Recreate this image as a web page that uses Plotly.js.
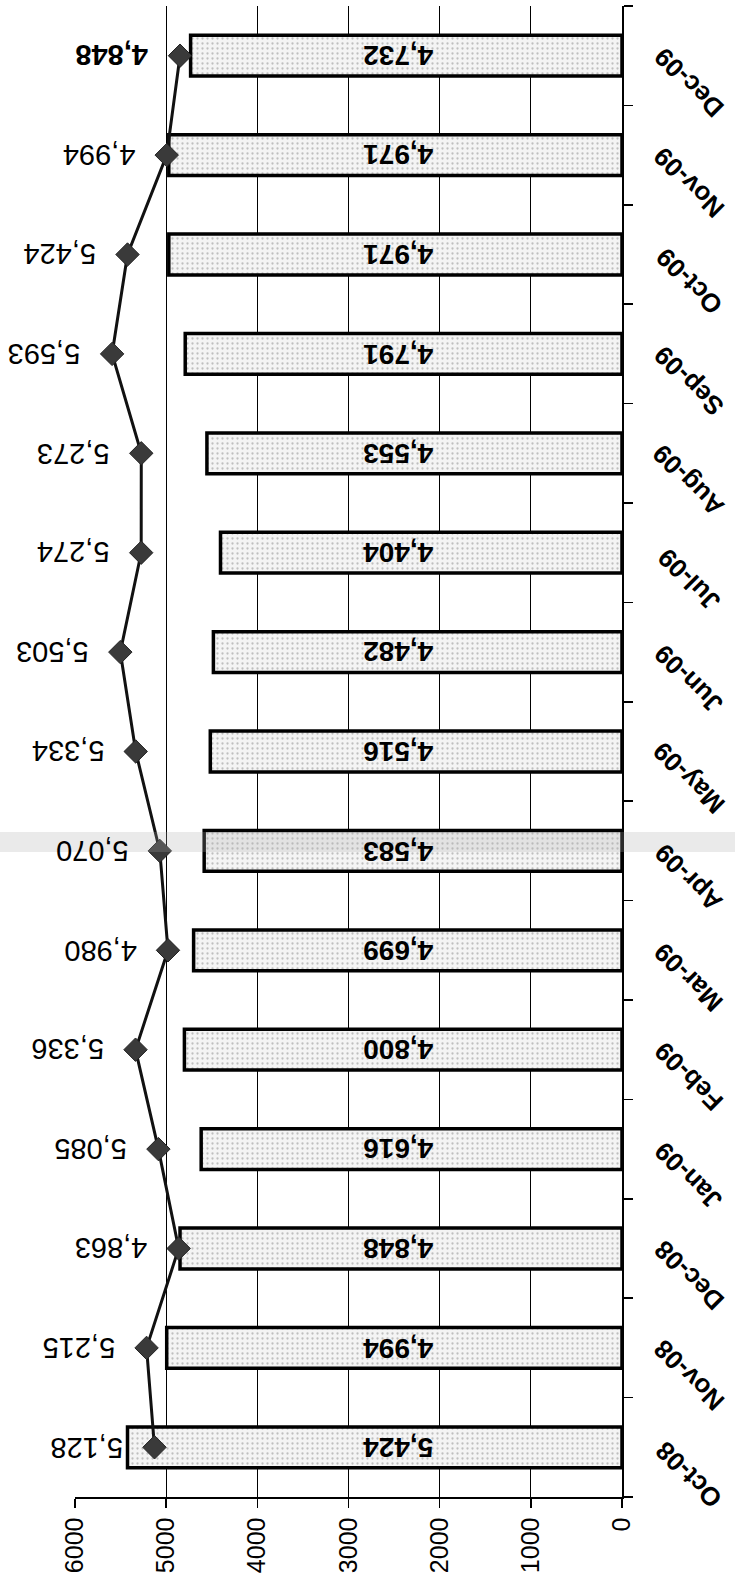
<!DOCTYPE html>
<html>
<head>
<meta charset="utf-8">
<script src="https://cdn.plot.ly/plotly-3.0.1.min.js"></script>
<style>html,body{margin:0;padding:0;background:#fff;}#chart{width:735px;height:1590px;}</style>
</head>
<body>
<div id="chart"></div>
<script>
var months = ["Oct-08","Nov-08","Dec-08","Jan-09","Feb-09","Mar-09","Apr-09","May-09","Jun-09","Jul-09","Aug-09","Sep-09","Oct-09","Nov-09","Dec-09"];
var barValues = [5424,4994,4848,4616,4800,4699,4583,4516,4482,4404,4553,4791,4971,4971,4732];
var lineValues = [5128,5215,4863,5085,5336,4980,5070,5334,5503,5274,5273,5593,5424,4994,4848];
var valueTicks = [0,1000,2000,3000,4000,5000,6000];

var FONT = "Liberation Sans, Arial, sans-serif";

var bars = {
  type: "bar",
  orientation: "h",
  y: months,
  x: barValues,
  width: 0.41,
  marker: {
    color: "#f4f4f4",
    line: {color: "#000", width: 3.5},
    pattern: {shape: ".", fgcolor: "#8a8a8a", size: 5, solidity: 0.16, fillmode: "overlay"}
  },
  hoverinfo: "skip",
  showlegend: false
};

var line = {
  type: "scatter",
  mode: "lines+markers",
  y: months,
  x: lineValues,
  line: {color: "#111", width: 3},
  marker: {symbol: "diamond", size: 18, color: "#3a3a3a", line: {color: "#222", width: 1}},
  hoverinfo: "skip",
  showlegend: false
};

var annotations = [];

// bar value labels (upside down, inside the bars)
barValues.forEach(function(v, i){
  annotations.push({
    x: 2450, xref: "x", y: months[i], yref: "y",
    text: v.toLocaleString("en-US"),
    showarrow: false, textangle: 180,
    xanchor: "center", yanchor: "middle",
    font: {family: FONT, size: 28, color: "#000", weight: "bold"}
  });
});

// line value labels
lineValues.forEach(function(v, i){
  annotations.push({
    x: v, y: months[i], xref: "x", yref: "y",
    text: v.toLocaleString("en-US"),
    showarrow: false,
    textangle: 180,
    xanchor: "center", yanchor: "middle",
    xshift: -68,
    font: {family: FONT, size: 29, color: "#000", weight: (i === lineValues.length - 1 ? "bold" : "normal")}
  });
});

// category labels (drawn as rotated annotations beside the category axis)
months.forEach(function(m){
  annotations.push({
    x: 1.122, xref: "paper", y: m, yref: "y",
    text: m, showarrow: false, textangle: -135,
    xanchor: "center", yanchor: "middle",
    yshift: -27,
    font: {family: FONT, size: 26, color: "#000", weight: "bold"}
  });
});

var layout = {
  width: 735, height: 1590,
  margin: {l: 75, r: 113, t: 6, b: 93, pad: 0},
  paper_bgcolor: "#fff", plot_bgcolor: "#fff",
  font: {family: FONT, color: "#000"},
  xaxis: {
    range: [6000, 0],
    automargin: false,
    tickvals: valueTicks,
    ticktext: valueTicks.map(String),
    showgrid: true, gridcolor: "#000", gridwidth: 1.2,
    zeroline: false,
    showline: true, linecolor: "#000", linewidth: 1.5,
    ticks: "outside", ticklen: 9, tickcolor: "#000", tickwidth: 1.5,
    tickangle: -90,
    tickfont: {family: FONT, size: 25, color: "#000"}
  },
  yaxis: {
    type: "category",
    categoryarray: months,
    range: [-0.5, 14.5],
    automargin: false,
    side: "right",
    showgrid: false, zeroline: false,
    showline: true, linecolor: "#000", linewidth: 1.5,
    ticks: "outside", tickson: "boundaries", ticklen: 9, tickcolor: "#000", tickwidth: 1.5,
    showticklabels: false
  },
  shapes: [{
    type: "rect", xref: "paper", yref: "paper",
    x0: -0.2, x1: 1.3, y0: 0.4326, y1: 0.446,
    fillcolor: "rgba(170,170,170,0.25)", line: {width: 0}, layer: "above"
  }],
  annotations: annotations,
  bargap: 0.59
};

Plotly.newPlot("chart", [bars, line], layout, {staticPlot: true, displayModeBar: false});
</script>
</body>
</html>
